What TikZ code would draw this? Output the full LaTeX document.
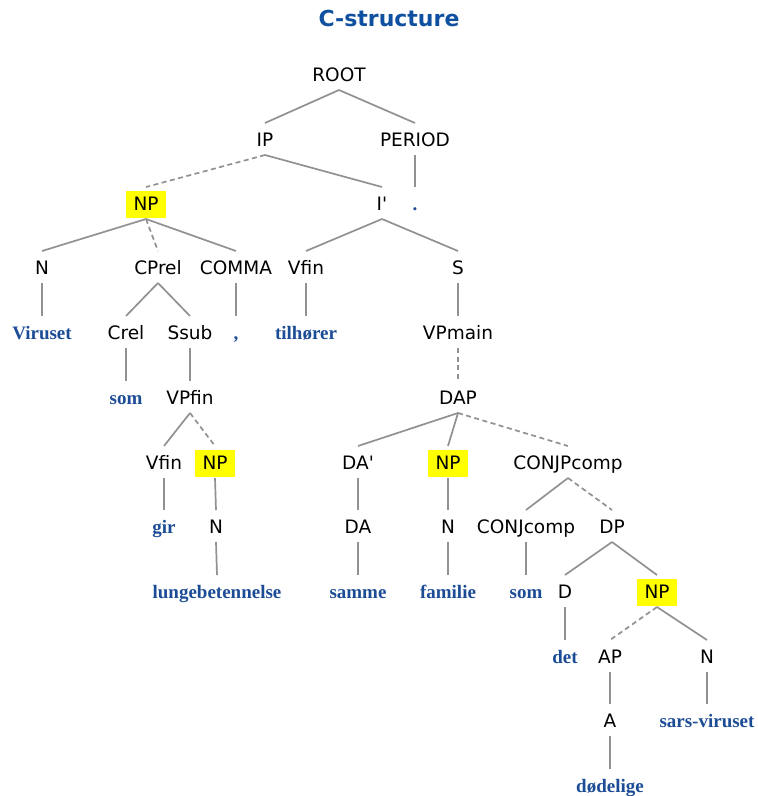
\documentclass[tikz,border=0pt]{standalone}
\usepackage{fontspec}
\usetikzlibrary{calc}
\newfontfamily\catfont{DejaVu Sans}
\newfontfamily\titlefont{DejaVu Sans}
\newfontfamily\wordfont{Liberation Serif}
\definecolor{titleblue}{RGB}{16,80,160}
\definecolor{wordblue}{RGB}{28,76,150}
\definecolor{edgegray}{RGB}{145,145,145}
\definecolor{hlyellow}{RGB}{255,255,0}
% branch from parent label to child label
\newcommand\tbranch[3][]{\draw[edge,#1] ($(#2)+(0,15)$) -- ($(#3)+(0,-17)$);}
\begin{document}
\begin{tikzpicture}[x=1pt,y=-1pt,
  cat/.style={font=\catfont\fontsize{18.5}{20}\selectfont, inner sep=0pt,
    text height=13.5pt, text depth=0pt},
  hl/.style={cat, fill=hlyellow, minimum width=40pt, minimum height=27pt},
  word/.style={font=\wordfont\bfseries\fontsize{19}{21}\selectfont, text=wordblue,
    inner sep=0pt, text height=13.5pt, text depth=0pt},
  edge/.style={draw=edgegray, line width=1.7pt},
  dedge/.style={dash pattern=on 5pt off 3.5pt}]
\useasboundingbox (0,0) rectangle (758,796);

\node[font=\titlefont\bfseries\fontsize{22}{24}\selectfont, text=titleblue,
  inner sep=0pt, text height=16pt, text depth=0pt] (title) at (389,18) {C-structure};

% categories
\node[cat] (root) at (339,75) {ROOT};
\node[cat] (ip) at (265,140) {IP};
\node[cat] (period) at (415,140) {PERIOD};
\node[hl] (np1) at (146,204) {NP};
\node[cat] (ibar) at (382,204) {I\textquotesingle};
\node[cat] (n1) at (42,268) {N};
\node[cat] (cprel) at (158,268) {CPrel};
\node[cat] (comma) at (236,268) {COMMA};
\node[cat] (vfin1) at (306,268) {Vfin};
\node[cat] (s) at (458,268) {S};
\node[cat] (crel) at (126,333) {Crel};
\node[cat] (ssub) at (190,333) {Ssub};
\node[cat] (vpmain) at (458,333) {VPmain};
\node[cat] (vpfin) at (190,398) {VPfin};
\node[cat] (dap) at (458,398) {DAP};
\node[cat] (vfin2) at (164,463) {Vfin};
\node[hl] (np2) at (215,463) {NP};
\node[cat] (daprime) at (358,463) {DA\textquotesingle};
\node[hl] (np3) at (448,463) {NP};
\node[cat] (conjp) at (568,463) {CONJPcomp};
\node[cat] (n2) at (216,527) {N};
\node[cat] (da) at (358,527) {DA};
\node[cat] (n3) at (448,527) {N};
\node[cat] (conj) at (526,527) {CONJcomp};
\node[cat] (dp) at (612,527) {DP};
\node[cat] (d) at (565,592) {D};
\node[hl] (np4) at (657,592) {NP};
\node[cat] (ap) at (610,657) {AP};
\node[cat] (n4) at (707,657) {N};
\node[cat] (a) at (610,721) {A};

% words
\node[word] (wdot) at (415,204) {.};
\node[word] (wviruset) at (42,333) {Viruset};
\node[word] (wcomma) at (236,333) {,};
\node[word] (wtilhorer) at (306,333) {tilhører};
\node[word] (wsom1) at (126,398) {som};
\node[word] (wgir) at (164,527) {gir};
\node[word] (wlunge) at (217,592) {lungebetennelse};
\node[word] (wsamme) at (358,592) {samme};
\node[word] (wfamilie) at (448,592) {familie};
\node[word] (wsom2) at (526,592) {som};
\node[word] (wdet) at (565,657) {det};
\node[word] (wsars) at (707,721) {sars-viruset};
\node[word] (wdodelige) at (610,786) {dødelige};

% branches
\tbranch{root}{ip}
\tbranch{root}{period}
\tbranch[dedge]{ip}{np1}
\tbranch{ip}{ibar}
\tbranch{period}{wdot}
\tbranch{np1}{n1}
\tbranch[dedge]{np1}{cprel}
\tbranch{np1}{comma}
\tbranch{ibar}{vfin1}
\tbranch{ibar}{s}
\tbranch{n1}{wviruset}
\tbranch{cprel}{crel}
\tbranch{cprel}{ssub}
\tbranch{comma}{wcomma}
\tbranch{vfin1}{wtilhorer}
\tbranch{s}{vpmain}
\tbranch{crel}{wsom1}
\tbranch{ssub}{vpfin}
\tbranch[dedge]{vpmain}{dap}
\tbranch{vpfin}{vfin2}
\tbranch[dedge]{vpfin}{np2}
\tbranch{dap}{daprime}
\tbranch{dap}{np3}
\tbranch[dedge]{dap}{conjp}
\tbranch{vfin2}{wgir}
\tbranch{np2}{n2}
\tbranch{daprime}{da}
\tbranch{np3}{n3}
\tbranch{conjp}{conj}
\tbranch[dedge]{conjp}{dp}
\tbranch{n2}{wlunge}
\tbranch{da}{wsamme}
\tbranch{n3}{wfamilie}
\tbranch{conj}{wsom2}
\tbranch{dp}{d}
\tbranch{dp}{np4}
\tbranch{d}{wdet}
\tbranch[dedge]{np4}{ap}
\tbranch{np4}{n4}
\tbranch{ap}{a}
\tbranch{n4}{wsars}
\tbranch{a}{wdodelige}
\end{tikzpicture}
\end{document}
